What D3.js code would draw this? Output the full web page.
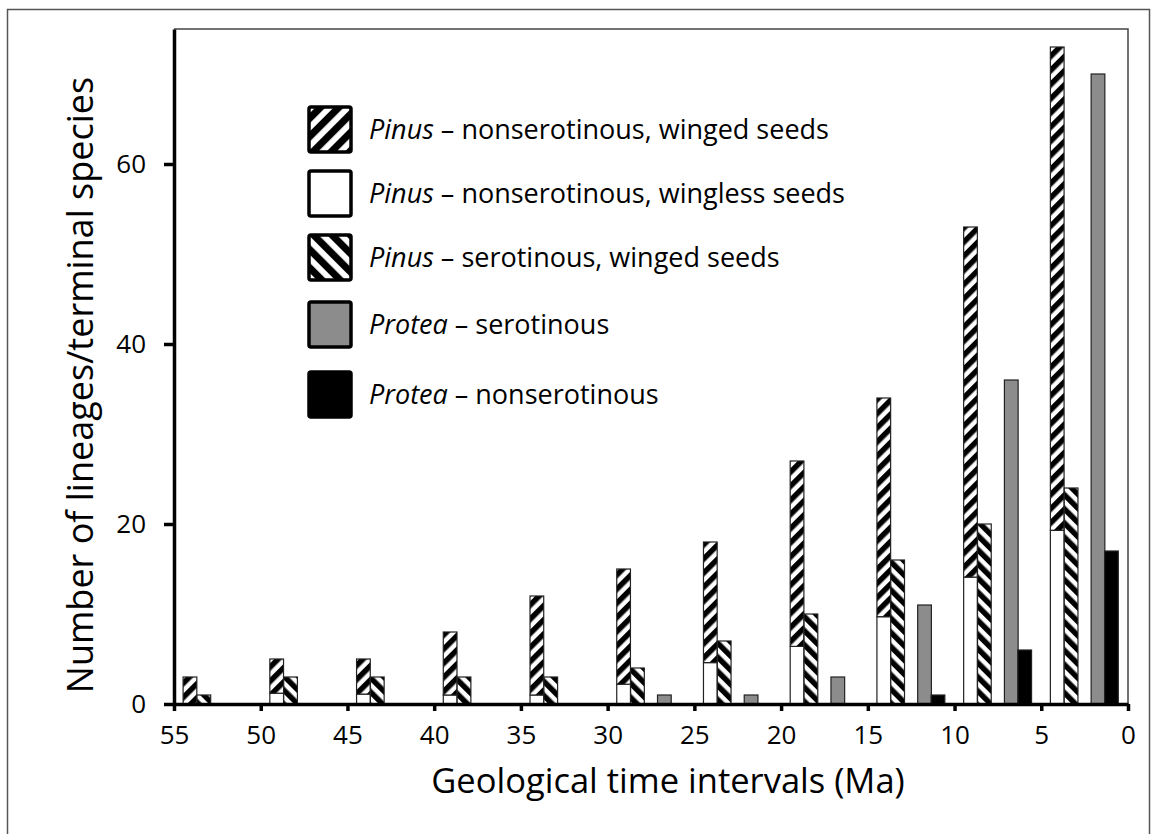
<!DOCTYPE html>
<html>
<head>
<meta charset="utf-8">
<script src="https://cdn.jsdelivr.net/npm/d3@7"></script>
<style>
  body { margin: 0; background: #fff; }
  svg { display: block; font-family: "Open Sans", sans-serif; }
</style>
</head>
<body>
<div id="chart"></div>
<script>
// start (older edge) of each 5 Ma interval
const binStarts = [55, 50, 45, 40, 35, 30, 25, 20, 15, 10, 5];

// Pinus nonserotinous: wingless part (bottom) and winged part (stacked on top)
const pinusWingless = [0, 1.2, 1.1, 1.0, 1.0, 2.2, 4.6, 6.4, 9.7, 14.1, 19.3];
const pinusWinged = [3, 3.8, 3.9, 7.0, 11.0, 12.8, 13.4, 20.6, 24.3, 38.9, 53.7];
const pinusSerotinous = [1, 3, 3, 3, 3, 4, 7, 10, 16, 20, 24];
const proteaSerotinous = [0, 0, 0, 0, 0, 1, 1, 3, 11, 36, 70];
const proteaNonserotinous = [0, 0, 0, 0, 0, 0, 0, 0, 1, 6, 17];

const xTicks = [55, 50, 45, 40, 35, 30, 25, 20, 15, 10, 5, 0];
const yTicks = [0, 20, 40, 60];

const legendGenus = ["Pinus", "Pinus", "Pinus", "Protea", "Protea"];
const legendText = [
    " \u2013 nonserotinous, winged seeds",
    " \u2013 nonserotinous, wingless seeds",
    " \u2013 serotinous, winged seeds",
    " \u2013 serotinous",
    " \u2013 nonserotinous"
];

const width = 1154;
const height = 834;
const grey = "#8c8c8c";

const svg = d3.select("#chart")
    .append("svg")
    .attr("width", width)
    .attr("height", height);

const defs = svg.append("defs");
const hatch = (id, size, angle) => {
    const p = defs.append("pattern")
        .attr("id", id)
        .attr("patternUnits", "userSpaceOnUse")
        .attr("width", size)
        .attr("height", size)
        .attr("patternTransform", `rotate(${angle})`);
    p.append("rect").attr("width", size).attr("height", size).attr("fill", "#fff");
    p.append("rect").attr("width", size * 0.55).attr("height", size).attr("fill", "#000");
};
hatch("barUp", 10, 45);
hatch("barDown", 10, -45);
hatch("legUp", 13, 45);
hatch("legDown", 13, -45);

// outer frame
svg.append("rect")
    .attr("x", 7.5).attr("y", 9.5)
    .attr("width", 1142).attr("height", 900)
    .attr("fill", "none")
    .attr("stroke", "#555")
    .attr("stroke-width", 1.5);

const x = d3.scaleLinear().domain([55, 0]).range([174, 1128]);
const y = d3.scaleLinear().domain([0, 75]).range([704, 29]);

// plot box top and right edges
svg.append("path")
    .attr("d", `M${x(55)},${y(75)}H${x(0)}V${y(0)}`)
    .attr("fill", "none")
    .attr("stroke", "#444")
    .attr("stroke-width", 1.5);

const binW = x(50) - x(55);
const slotOffsets = [0.105, 0.265, 0.575, 0.73];
const barW = binW * 0.158;
const bx = (i, slot) => x(binStarts[i]) + slotOffsets[slot] * binW;

const bars = svg.append("g")
    .attr("stroke", "#222")
    .attr("stroke-width", 1.2);

const idx = d3.range(binStarts.length);

// wingless (white) bottom of stacked bar
bars.selectAll(".wingless").data(idx.filter(i => pinusWingless[i] > 0))
    .enter().append("rect")
    .attr("x", i => bx(i, 0))
    .attr("width", barW)
    .attr("y", i => y(pinusWingless[i]))
    .attr("height", i => y(0) - y(pinusWingless[i]))
    .attr("fill", "#fff");

// winged (hatched) top of stacked bar
bars.selectAll(".winged").data(idx)
    .enter().append("rect")
    .attr("x", i => bx(i, 0))
    .attr("width", barW)
    .attr("y", i => y(pinusWingless[i] + pinusWinged[i]))
    .attr("height", i => y(pinusWingless[i]) - y(pinusWingless[i] + pinusWinged[i]))
    .attr("fill", "url(#barUp)");

bars.selectAll(".sero").data(idx)
    .enter().append("rect")
    .attr("x", i => bx(i, 1))
    .attr("width", barW)
    .attr("y", i => y(pinusSerotinous[i]))
    .attr("height", i => y(0) - y(pinusSerotinous[i]))
    .attr("fill", "url(#barDown)");

bars.selectAll(".psero").data(idx.filter(i => proteaSerotinous[i] > 0))
    .enter().append("rect")
    .attr("x", i => bx(i, 2))
    .attr("width", barW)
    .attr("y", i => y(proteaSerotinous[i]))
    .attr("height", i => y(0) - y(proteaSerotinous[i]))
    .attr("fill", grey);

bars.selectAll(".pnon").data(idx.filter(i => proteaNonserotinous[i] > 0))
    .enter().append("rect")
    .attr("x", i => bx(i, 3))
    .attr("width", barW)
    .attr("y", i => y(proteaNonserotinous[i]))
    .attr("height", i => y(0) - y(proteaNonserotinous[i]))
    .attr("fill", "#000");

// axes
const yAxisG = svg.append("g")
    .attr("transform", `translate(${x(55)},0)`)
    .call(d3.axisLeft(y).tickValues(yTicks).tickSize(10).tickSizeOuter(0).tickPadding(18));
yAxisG.select(".domain").attr("stroke", "#000").attr("stroke-width", 3.5);
yAxisG.selectAll(".tick line").attr("stroke", "#000").attr("stroke-width", 3.5);
yAxisG.selectAll("text")
    .attr("font-size", 26)
    .attr("font-family", "Open Sans, sans-serif")
    .attr("fill", "#000");

const xAxisG = svg.append("g")
    .attr("transform", `translate(0,${y(0)})`)
    .call(d3.axisBottom(x).tickValues(xTicks).tickSize(7).tickSizeOuter(0).tickPadding(15));
xAxisG.select(".domain").attr("stroke", "#000").attr("stroke-width", 3.5);
xAxisG.selectAll(".tick line").attr("stroke", "#000").attr("stroke-width", 3.5);
xAxisG.selectAll("text")
    .attr("font-size", 26)
    .attr("font-family", "Open Sans, sans-serif")
    .attr("fill", "#000");

// axis titles
svg.append("text")
    .attr("x", 668)
    .attr("y", 793)
    .attr("text-anchor", "middle")
    .attr("font-size", 34.5)
    .text("Geological time intervals (Ma)");

svg.append("text")
    .attr("transform", "translate(93,385) rotate(-90)")
    .attr("text-anchor", "middle")
    .attr("font-size", 36)
    .text("Number of lineages/terminal species");

// legend
const legendRowY = [130, 194, 258, 325, 395];
const legendFill = ["url(#legUp)", "#fff", "url(#legDown)", grey, "#000"];

const legend = svg.append("g");
legendGenus.forEach((genus, i) => {
    legend.append("rect")
        .attr("x", 309)
        .attr("y", legendRowY[i] - 23)
        .attr("width", 42)
        .attr("height", 45)
        .attr("rx", 2)
        .attr("fill", legendFill[i])
        .attr("stroke", "#000")
        .attr("stroke-width", 3.5);
    const t = legend.append("text")
        .attr("x", 369)
        .attr("y", legendRowY[i] + 9)
        .attr("font-size", 27);
    t.append("tspan").attr("font-style", "italic").text(genus);
    t.append("tspan").text(legendText[i]);
});
</script>
</body>
</html>
